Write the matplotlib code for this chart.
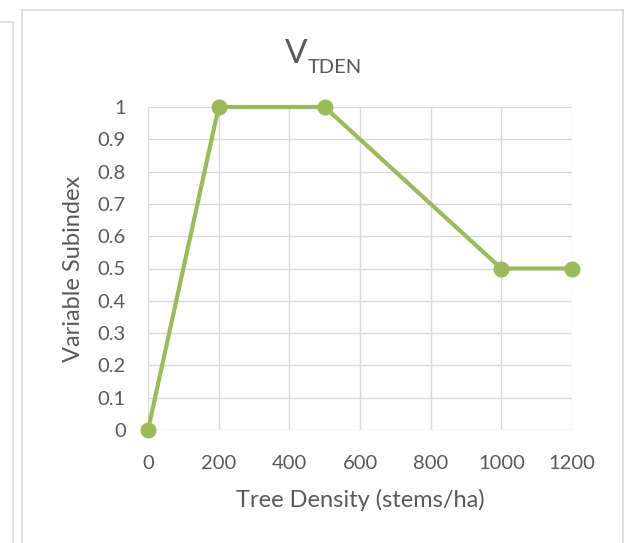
import matplotlib.pyplot as plt
from matplotlib.lines import Line2D

# data
density = [0, 200, 500, 1000, 1200]
subindex = [0, 1, 1, 0.5, 0.5]
x_ticks = [0, 200, 400, 600, 800, 1000, 1200]
y_ticks = [0, 0.1, 0.2, 0.3, 0.4, 0.5, 0.6, 0.7, 0.8, 0.9, 1]

green = '#9BBB59'
txt = '#595959'
grid = '#D9D9D9'
plt.rcParams['font.family'] = ['Lato', 'DejaVu Sans']

fig = plt.figure(figsize=(6.33, 5.43), dpi=100)
ax = fig.add_axes([148/633, 1 - 430/543, (572 - 148)/633, (430 - 107)/543])

ax.plot(density, subindex, color=green, lw=3, marker='o', ms=10.5,
        clip_on=False, zorder=5, solid_capstyle='round')

ax.set_xlim(0, 1200)
ax.set_ylim(0, 1)
ax.set_xticks(x_ticks)
ax.set_yticks(y_ticks)
ax.set_yticklabels(['%g' % v for v in y_ticks])
ax.grid(True, color=grid, lw=1)
ax.set_axisbelow(True)
for s in ax.spines.values():
    s.set_visible(False)
ax.tick_params(length=0, labelsize=14.5, colors=txt)
ax.tick_params(axis='x', pad=18)
ax.tick_params(axis='y', pad=16)

ax.set_xlabel('Tree Density (stems/ha)', fontsize=17, color=txt, labelpad=12)
ax.set_ylabel('Variable Subindex', fontsize=17, color=txt, labelpad=10)

# title with subscript
fig.text(296/633, 1 - 63/543, 'V', fontsize=24, color=txt, ha='center', va='baseline')
fig.text(308/633, 1 - 73/543, 'TDEN', fontsize=14.5, color=txt, ha='left', va='baseline')

# chart frame lines (Excel sheet look)
for x in [13, 22, 623]:
    fig.add_artist(Line2D([x/633, x/633], [0, 1 - 10/543 if x != 13 else 1 - 22/543],
                          color='#D9D9D9', lw=1.2, transform=fig.transFigure))
fig.add_artist(Line2D([22/633, 623/633], [1 - 10/543, 1 - 10/543],
                      color='#D9D9D9', lw=1.2, transform=fig.transFigure))
fig.add_artist(Line2D([0, 13/633], [1 - 22/543, 1 - 22/543],
                      color='#D9D9D9', lw=1.2, transform=fig.transFigure))

fig.savefig('out.png', dpi=100)
